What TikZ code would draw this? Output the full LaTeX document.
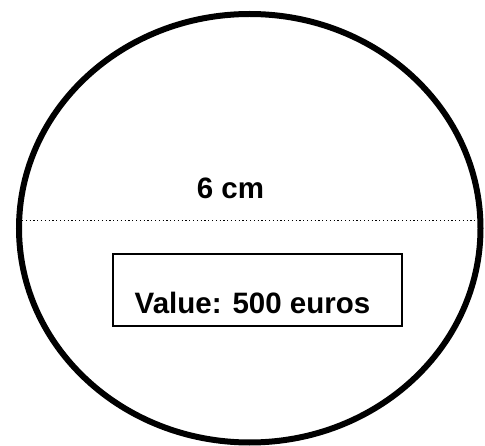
\documentclass[tikz,border=0pt]{standalone}
\usepackage{fontspec}
\setmainfont{Liberation Sans}
\usetikzlibrary{positioning,shapes.geometric}

\begin{document}
\begin{tikzpicture}[x=1pt,y=-1pt,
    coin/.style={draw,ellipse,line width=6pt,inner sep=0pt,minimum width=461.5pt,minimum height=428.5pt},
    valbox/.style={draw,line width=1.4pt,inner sep=0pt,minimum width=289pt,minimum height=72pt},
    lbl/.style={font=\bfseries\fontsize{29.5}{34}\selectfont,inner sep=0pt}]
  \useasboundingbox (0,0) rectangle (485,446);
  \node[coin] (coin) at (249.75,228.25) {};
  \coordinate (diamL) at (22,221);
  \coordinate (diamR) at (478,221);
  \draw[line width=1pt,dash pattern=on 1.2pt off 2.6pt] (diamL) -- (diamR);
  \node[lbl,anchor=base] (size) at (230.5,199) {6 cm};
  \node[valbox] (box) at (257.5,290) {};
  \node[lbl,anchor=base west] (value) at (134.5,314) {Value: 500 euros};
\end{tikzpicture}
\end{document}
